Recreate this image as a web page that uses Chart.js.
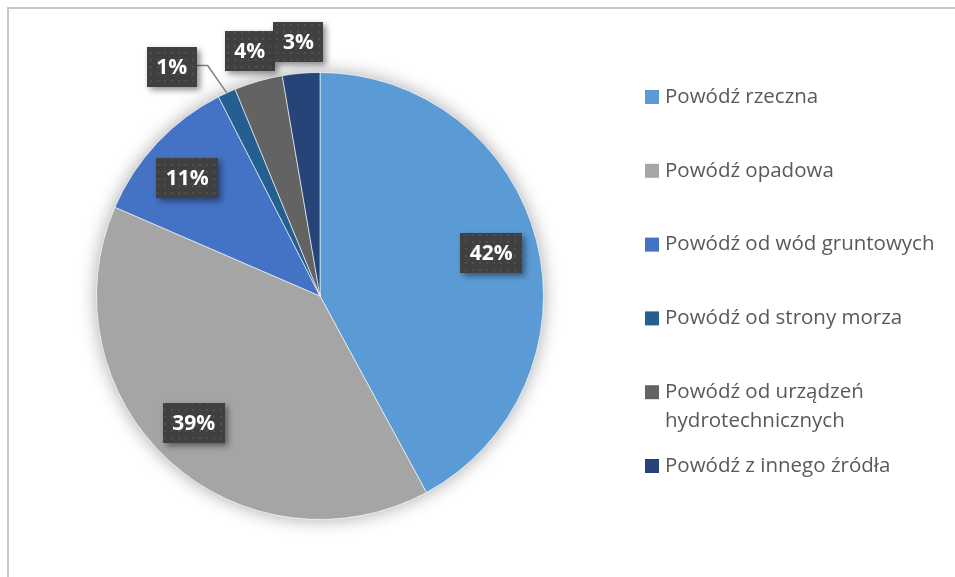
<!DOCTYPE html>
<html>
<head>
<meta charset="utf-8">
<script src="https://cdn.jsdelivr.net/npm/chart.js@4.4.0/dist/chart.umd.min.js"></script>
<style>
    html, body { margin: 0; padding: 0; background: #fff; }
    #wrap { position: relative; width: 955px; height: 577px; overflow: hidden; }
    #frame { position: absolute; left: 7px; top: 7px; width: 1000px; height: 700px;
             border-left: 2px solid #c8c8c8; border-top: 2px solid #c8c8c8; }
    #pie { position: absolute; left: 0; top: 0; }
</style>
</head>
<body>
<div id="wrap">
    <div id="frame"></div>
    <canvas id="pie" width="955" height="577"></canvas>
</div>
<script>
const labels = [
    'Powódź rzeczna',
    'Powódź opadowa',
    'Powódź od wód gruntowych',
    'Powódź od strony morza',
    'Powódź od urządzeń hydrotechnicznych',
    'Powódź z innego źródła'
];
const shares = [42.1, 39.4, 11.0, 1.3, 3.5, 2.7];
const colors = ['#5b9bd5', '#a5a5a5', '#4472c4', '#255e91', '#636363', '#264478'];

const FONT = "'Open Sans', 'Noto Sans', sans-serif";

// dotted dark fill for the data label boxes
function makeBoxPattern(ctx) {
    const tile = document.createElement('canvas');
    tile.width = 7; tile.height = 7;
    const t = tile.getContext('2d');
    t.fillStyle = '#404040';
    t.fillRect(0, 0, 7, 7);
    t.fillStyle = '#505050';
    t.fillRect(3, 3, 2, 2);
    return ctx.createPattern(tile, 'repeat');
}

// soft glow under the whole pie
const pieShadow = {
    id: 'pieShadow',
    beforeDatasetsDraw(chart) {
        const arc = chart.getDatasetMeta(0).data[0];
        if (!arc) return;
        const ctx = chart.ctx;
        ctx.save();
        ctx.shadowColor = 'rgba(0,0,0,0.35)';
        ctx.shadowBlur = 18;
        ctx.fillStyle = '#fff';
        ctx.beginPath();
        ctx.arc(arc.x, arc.y, arc.outerRadius, 0, Math.PI * 2);
        ctx.fill();
        ctx.restore();
    }
};

// percentage labels in dark boxes
const boxLabels = {
    id: 'boxLabels',
    afterDatasetsDraw(chart, args, opts) {
        const ctx = chart.ctx;
        const meta = chart.getDatasetMeta(0);
        const data = chart.data.datasets[0].data;
        const total = data.reduce((a, b) => a + b, 0);
        const pattern = makeBoxPattern(ctx);
        ctx.save();
        ctx.font = 'bold 21px ' + FONT;
        meta.data.forEach((arc, i) => {
            const share = data[i] / total * 100;
            const text = Math.round(share) + '%';
            const mid = (arc.startAngle + arc.endAngle) / 2;
            const inside = share >= 5;
            const r = arc.outerRadius * (inside ? 0.79 : 1.14);
            let cx = arc.x + Math.cos(mid) * r;
            let cy = arc.y + Math.sin(mid) * r;
            const nudge = (opts.nudge || {})[i];
            if (nudge) { cx += nudge[0]; cy += nudge[1]; }
            const w = ctx.measureText(text).width + 19;
            const h = 40;

            if (nudge && share < 5) {
                // leader line back to the slice
                const ex = arc.x + Math.cos(mid) * arc.outerRadius;
                const ey = arc.y + Math.sin(mid) * arc.outerRadius;
                ctx.strokeStyle = '#7f7f7f';
                ctx.lineWidth = 1.5;
                ctx.beginPath();
                ctx.moveTo(cx + w / 2, cy - 2);
                ctx.lineTo(cx + w / 2 + 11, cy - 2);
                ctx.lineTo(ex, ey);
                ctx.stroke();
            }

            ctx.save();
            ctx.shadowColor = 'rgba(0,0,0,0.45)';
            ctx.shadowBlur = 6;
            ctx.shadowOffsetX = 3;
            ctx.shadowOffsetY = 3;
            ctx.fillStyle = pattern;
            ctx.fillRect(Math.round(cx - w / 2), Math.round(cy - h / 2), Math.round(w), h);
            ctx.restore();

            ctx.fillStyle = '#fff';
            ctx.textAlign = 'center';
            ctx.textBaseline = 'middle';
            ctx.fillText(text, cx, cy + 1);
        });
        ctx.restore();
    }
};

// legend on the right, with wrapping
const sideLegend = {
    id: 'sideLegend',
    afterDraw(chart, args, opts) {
        const ctx = chart.ctx;
        ctx.save();
        ctx.font = '20.5px ' + FONT;
        ctx.textBaseline = 'middle';
        ctx.textAlign = 'left';
        chart.data.labels.forEach((label, i) => {
            const y = opts.top + i * opts.step;
            ctx.fillStyle = chart.data.datasets[0].backgroundColor[i];
            ctx.fillRect(opts.left, y - 7, 14, 14);
            // wrap words
            const words = label.split(' ');
            const lines = [];
            let line = '';
            words.forEach(wd => {
                const test = line ? line + ' ' + wd : wd;
                if (ctx.measureText(test).width > opts.maxWidth && line) {
                    lines.push(line);
                    line = wd;
                } else {
                    line = test;
                }
            });
            lines.push(line);
            ctx.fillStyle = '#595959';
            lines.forEach((ln, k) => ctx.fillText(ln, opts.left + 20, y + k * 29));
        });
        ctx.restore();
    }
};

new Chart(document.getElementById('pie').getContext('2d'), {
    type: 'pie',
    data: {
        labels: labels,
        datasets: [{
            data: shares,
            backgroundColor: colors,
            borderColor: 'rgba(255,255,255,0.6)',
            borderWidth: 1
        }]
    },
    options: {
        responsive: false,
        animation: false,
        layout: { padding: { left: 96, right: 411, top: 72, bottom: 57 } },
        plugins: {
            legend: { display: false },
            tooltip: { enabled: false },
            boxLabels: { nudge: { 1: [-7, -3], 2: [-4, 3], 3: [-42, 3] } },
            sideLegend: { left: 645, top: 97, step: 73.8, maxWidth: 285 }
        }
    },
    plugins: [pieShadow, boxLabels, sideLegend]
});
</script>
</body>
</html>
